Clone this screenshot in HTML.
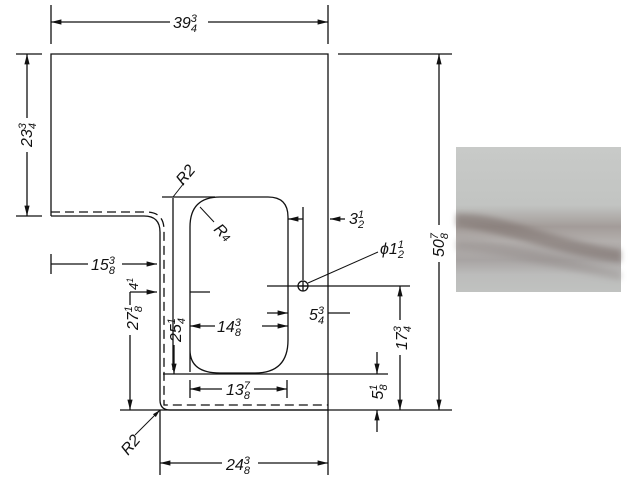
<!DOCTYPE html>
<html><head><meta charset="utf-8"><style>
html,body{margin:0;padding:0;background:#fff;}
svg{display:block}
text{font-family:"Liberation Sans",sans-serif;font-style:italic;fill:#111}
</style></head><body>
<svg width="634" height="477" viewBox="0 0 634 477" xmlns="http://www.w3.org/2000/svg">
<defs>
<linearGradient id="mg" x1="0" y1="0" x2="0" y2="1">
<stop offset="0" stop-color="#c8cac8"/><stop offset="0.4" stop-color="#c2c4c2"/>
<stop offset="0.55" stop-color="#a39c99"/><stop offset="0.65" stop-color="#b3afad"/>
<stop offset="0.78" stop-color="#a8a4a3"/><stop offset="0.88" stop-color="#bcbcbb"/>
<stop offset="1" stop-color="#c0c2c0"/></linearGradient>
<filter id="bl"><feGaussianBlur stdDeviation="3"/></filter>
<marker id="a" markerWidth="8" markerHeight="6" refX="8" refY="3" orient="auto-start-reverse"><path d="M0,1 L8,3 L0,5z" fill="#111"/></marker>
</defs>
<rect x="456" y="147" width="165" height="145" fill="url(#mg)"/>
<path d="M456,214 C500,212 540,236 621,250 L621,262 C560,256 520,236 456,226z" fill="#7a6e6a" opacity="0.55" filter="url(#bl)"/>
<path d="M456,240 C500,238 560,258 621,272 L621,280 C560,270 500,252 456,250z" fill="#8c8482" opacity="0.35" filter="url(#bl)"/>
<g stroke="#111" fill="none" stroke-width="1.3">
<path d="M51,216 L51,54 L328,54 L328,410 L170,410 Q160,410 160,400 L160,232 Q160,216 144,216 L51,216"/>
<path d="M51,212 L146,212 Q164,212 164,230 L164,405 L328,405" stroke-dasharray="9,5"/>
<path d="M190,372 L190,227 Q190,197 220,197 L268,197 Q288,197 288,217 L288,340 Q288,373 255,373 L220,373 Q190,373 190,350"/>
<line x1="162" y1="197" x2="215" y2="197"/>
<line x1="173" y1="198" x2="173" y2="370"/>
<line x1="163" y1="374" x2="388" y2="374"/>
<line x1="173" y1="197" x2="184" y2="183" stroke-width="1"/>
<line x1="200" y1="207" x2="214" y2="222" stroke-width="1"/>
<line x1="51" y1="5" x2="51" y2="44"/><line x1="328" y1="5" x2="328" y2="44"/>
<line x1="51" y1="22" x2="170" y2="22" marker-start="url(#a)"/><line x1="208" y1="22" x2="328" y2="22" marker-end="url(#a)"/>
<line x1="16" y1="54" x2="42" y2="54"/><line x1="16" y1="216" x2="42" y2="216"/>
<line x1="27" y1="54" x2="27" y2="118" marker-start="url(#a)"/><line x1="27" y1="152" x2="27" y2="216" marker-end="url(#a)"/>
<line x1="338" y1="54" x2="452" y2="54"/><line x1="120" y1="410" x2="452" y2="410"/>
<line x1="439" y1="54" x2="439" y2="225" marker-start="url(#a)"/><line x1="439" y1="262" x2="439" y2="410" marker-end="url(#a)"/>
<line x1="303" y1="207" x2="303" y2="280"/><line x1="288" y1="219" x2="303" y2="219" marker-start="url(#a)"/>
<line x1="330" y1="219" x2="345" y2="219" marker-start="url(#a)"/>
<line x1="267" y1="286" x2="410" y2="286"/>
<circle cx="303" cy="286" r="5"/><line x1="298" y1="286" x2="308" y2="286"/><line x1="303" y1="281" x2="303" y2="291"/>
<line x1="308" y1="283" x2="378" y2="252" stroke-width="1"/>
<line x1="400" y1="286" x2="400" y2="320" marker-start="url(#a)"/><line x1="400" y1="355" x2="400" y2="410" marker-end="url(#a)"/>
<line x1="267" y1="313" x2="288" y2="313" marker-end="url(#a)"/><line x1="328" y1="313" x2="350" y2="313"/>
<line x1="190" y1="326" x2="215" y2="326" marker-start="url(#a)"/><line x1="262" y1="326" x2="288" y2="326" marker-end="url(#a)"/>
<line x1="190" y1="380" x2="190" y2="398"/><line x1="287" y1="380" x2="287" y2="398"/>
<line x1="190" y1="389" x2="222" y2="389" marker-start="url(#a)"/><line x1="254" y1="389" x2="287" y2="389" marker-end="url(#a)"/>
<line x1="377" y1="352" x2="377" y2="374" marker-end="url(#a)"/><line x1="377" y1="410" x2="377" y2="432" marker-start="url(#a)"/>
<line x1="51" y1="254" x2="51" y2="274"/>
<line x1="51" y1="264" x2="88" y2="264"/><line x1="122" y1="264" x2="157" y2="264" marker-end="url(#a)"/>
<line x1="130" y1="292" x2="157" y2="292" marker-end="url(#a)"/><line x1="190" y1="292" x2="210" y2="292"/>
<line x1="130" y1="292" x2="130" y2="305"/><line x1="130" y1="335" x2="130" y2="410" marker-end="url(#a)"/>
<line x1="174" y1="345" x2="174" y2="374" marker-end="url(#a)"/>
<line x1="160" y1="410" x2="160" y2="475"/><line x1="328" y1="410" x2="328" y2="475"/>
<line x1="160" y1="463" x2="222" y2="463" marker-start="url(#a)"/><line x1="258" y1="463" x2="328" y2="463" marker-end="url(#a)"/>
<line x1="160" y1="410" x2="135" y2="435" marker-start="url(#a)" stroke-width="1"/>
</g>
<g font-size="16">
<text x="173" y="28">39<tspan font-size="11" dy="-6">3</tspan><tspan font-size="11" dx="-6" dy="10">4</tspan></text>
<text transform="translate(32,135) rotate(-90)" text-anchor="middle">23<tspan font-size="11" dy="-6">3</tspan><tspan font-size="11" dx="-6" dy="10">4</tspan></text>
<text transform="translate(444,245) rotate(-90)" text-anchor="middle">50<tspan font-size="11" dy="-6">7</tspan><tspan font-size="11" dx="-6" dy="10">8</tspan></text>
<text transform="translate(183,186) rotate(-50)">R2</text>
<text transform="translate(213,230) rotate(45)">R<tspan font-size="11">4</tspan></text>
<text x="349" y="224">3<tspan font-size="11" dy="-6">1</tspan><tspan font-size="11" dx="-6" dy="10">2</tspan></text>
<text x="380" y="254">ϕ1<tspan font-size="11" dy="-6">1</tspan><tspan font-size="11" dx="-6" dy="10">2</tspan></text>
<text x="309" y="320">5<tspan font-size="11" dy="-6">3</tspan><tspan font-size="11" dx="-6" dy="10">4</tspan></text>
<text x="217" y="332">14<tspan font-size="11" dy="-6">3</tspan><tspan font-size="11" dx="-6" dy="10">8</tspan></text>
<text x="226" y="395">13<tspan font-size="11" dy="-6">7</tspan><tspan font-size="11" dx="-6" dy="10">8</tspan></text>
<text x="91" y="270">15<tspan font-size="11" dy="-6">3</tspan><tspan font-size="11" dx="-6" dy="10">8</tspan></text>
<text transform="translate(407,338) rotate(-90)" text-anchor="middle">17<tspan font-size="11" dy="-6">3</tspan><tspan font-size="11" dx="-6" dy="10">4</tspan></text>
<text transform="translate(383,392) rotate(-90)" text-anchor="middle">5<tspan font-size="11" dy="-6">1</tspan><tspan font-size="11" dx="-6" dy="10">8</tspan></text>
<text transform="translate(138,318) rotate(-90)" text-anchor="middle">27<tspan font-size="11" dy="-6">1</tspan><tspan font-size="11" dx="-6" dy="10">8</tspan></text>
<text transform="translate(138,290) rotate(-90)" font-size="13">4<tspan font-size="9" dy="-5">1</tspan></text>
<text transform="translate(181,330) rotate(-90)" text-anchor="middle">25<tspan font-size="11" dy="-6">1</tspan><tspan font-size="11" dx="-6" dy="10">4</tspan></text>
<text x="226" y="470">24<tspan font-size="11" dy="-6">3</tspan><tspan font-size="11" dx="-6" dy="10">8</tspan></text>
<text transform="translate(128,456) rotate(-50)">R2</text>
</g>
</svg>
</body></html>
